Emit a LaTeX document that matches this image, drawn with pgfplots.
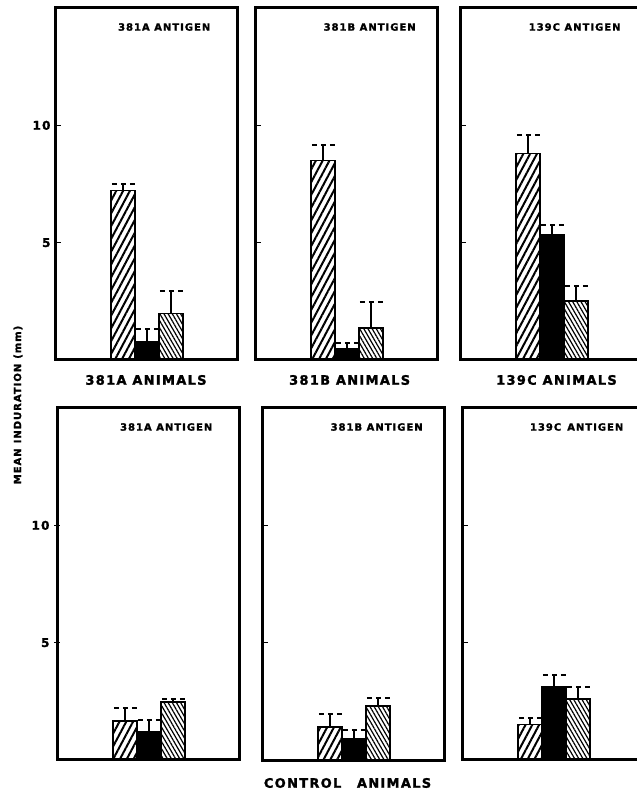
\documentclass[border=0pt]{standalone}
\usepackage{fontspec}
\setmainfont{DejaVu Sans}
\newfontfamily\lab{DejaVu Sans Bold}[LetterSpace=10, FakeBold=1.6]
\usepackage{pgfplots}
\pgfplotsset{compat=1.18}
\usetikzlibrary{patterns.meta}
\tikzset{
  ttl/.style={font=\lab\fontsize{10}{11}\selectfont},
  blab/.style={font=\lab\fontsize{13}{14}\selectfont}
}
\pgfplotsset{
  panel/.style={scale only axis, width=182pt, height=352pt,
    xmin=-1.83, xmax=5.75, ymin=0, ymax=15,
    xtick=\empty, ytick={5,10}, ytick pos=left,
    axis line style={line width=3pt},
    major tick length=6pt, tick style={line width=1.4pt, black},
    ybar, bar width=1, bar shift=0pt,
    /pgf/number format/assume math mode=true,
    yticklabel style={font=\lab\fontsize{12}{13}\selectfont, xshift=-1pt},
    clip=false},
  hatA/.style={draw=black, line width=1.4pt, pattern={Lines[angle=62,distance=6pt,line width=2pt]}},
  solB/.style={draw=black, line width=1.4pt, fill=black},
  hatC/.style={draw=black, line width=1.4pt, pattern={Lines[angle=-60,distance=3.6pt,line width=1.2pt]}},
  errs/.style={error bars/.cd, y dir=plus, y explicit,
    error bar style={line width=2.2pt, black, solid},
    error mark options={rotate=90, line width=2pt, mark size=12pt, dash pattern=on 5pt off 4pt, dash phase=-1pt, black}}
}
\begin{document}
\begin{tikzpicture}
\useasboundingbox (0,0) rectangle (637pt,793pt);
\clip (0,0) rectangle (637pt,793pt);
% ---------- top row ----------
\begin{axis}[panel, at={(55pt,433pt)}, anchor=south west, tick align=inside]
\addplot[hatA, errs] coordinates {(1,7.22) +- (0,0.30)};
\addplot[solB, errs] coordinates {(2,0.77) +- (0,0.55)};
\addplot[hatC, errs] coordinates {(3,1.97) +- (0,0.95)};
\node[ttl] at (rel axis cs:0.60,0.946) {381A ANTIGEN};
\node[blab] at (rel axis cs:0.5,0) [yshift=-20pt] {381A ANIMALS};
\end{axis}
\begin{axis}[panel, at={(255pt,433pt)}, anchor=south west, tick align=inside, yticklabels={}]
\addplot[hatA, errs] coordinates {(1,8.50) +- (0,0.65)};
\addplot[solB, errs] coordinates {(2,0.50) +- (0,0.22)};
\addplot[hatC, errs] coordinates {(3,1.37) +- (0,1.10)};
\node[ttl] at (rel axis cs:0.63,0.946) {381B ANTIGEN};
\node[blab] at (rel axis cs:0.52,0) [yshift=-20pt] {381B ANIMALS};
\end{axis}
\begin{axis}[panel, at={(460pt,433pt)}, anchor=south west, tick align=inside, yticklabels={}]
\addplot[hatA, errs] coordinates {(1,8.80) +- (0,0.77)};
\addplot[solB, errs] coordinates {(2,5.34) +- (0,0.40)};
\addplot[hatC, errs] coordinates {(3,2.52) +- (0,0.65)};
\node[ttl] at (rel axis cs:0.63,0.946) {139C ANTIGEN};
\node[blab] at (rel axis cs:0.53,0) [yshift=-20pt] {139C ANIMALS};
\end{axis}
% ---------- bottom row ----------
\begin{axis}[panel, at={(57pt,33pt)}, anchor=south west, tick align=center]
\addplot[hatA, errs] coordinates {(1,1.67) +- (0,0.55)};
\addplot[solB, errs] coordinates {(2,1.20) +- (0,0.51)};
\addplot[hatC, errs] coordinates {(3,2.48) +- (0,0.12)};
\node[ttl] at (rel axis cs:0.60,0.946) {381A ANTIGEN};
\end{axis}
\begin{axis}[panel, at={(262pt,33pt)}, anchor=south west, tick align=inside, yticklabels={}]
\addplot[hatA, errs] coordinates {(1,1.40) +- (0,0.57)};
\addplot[solB, errs] coordinates {(2,0.90) +- (0,0.38)};
\addplot[hatC, errs] coordinates {(3,2.30) +- (0,0.35)};
\node[ttl] at (rel axis cs:0.63,0.946) {381B ANTIGEN};
\node[blab] at (rel axis cs:0.47,0) [yshift=-23pt] {CONTROL\hspace{1.2em}ANIMALS};
\end{axis}
\begin{axis}[panel, at={(462pt,33pt)}, anchor=south west, tick align=inside, yticklabels={}]
\addplot[hatA, errs] coordinates {(1,1.50) +- (0,0.30)};
\addplot[solB, errs] coordinates {(2,3.12) +- (0,0.50)};
\addplot[hatC, errs] coordinates {(3,2.60) +- (0,0.50)};
\node[ttl] at (rel axis cs:0.63,0.946) {139C\hspace{0.6em}ANTIGEN};
\end{axis}
\node[rotate=90, font=\lab\fontsize{10}{11}\selectfont] at (18pt,388pt) {MEAN\hspace{0.5em}INDURATION\hspace{0.5em}(mm)};
\end{tikzpicture}
\end{document}
